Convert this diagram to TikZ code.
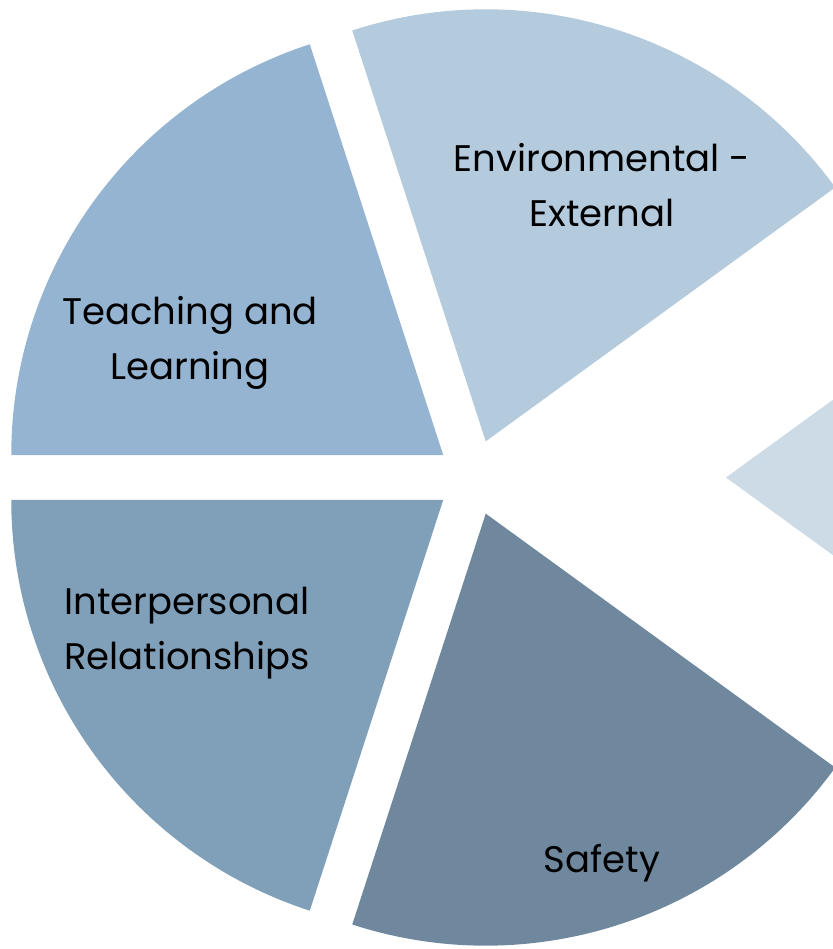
\documentclass[tikz,border=0pt]{standalone}
\usepackage{fontspec}
\setmainfont{Poppins}
\usetikzlibrary{calc}
\begin{document}
\begin{tikzpicture}[x=1pt,y=1pt,
  label text/.style={font=\fontsize{37}{55}\selectfont, text=black, align=center, inner sep=0pt}]
\definecolor{teachc}{HTML}{95B4D1}
\definecolor{envc}{HTML}{B4CADD}
\definecolor{interc}{HTML}{80A0BA}
\definecolor{safec}{HTML}{6F889E}
\definecolor{fifthc}{HTML}{CDDBE7}
\useasboundingbox (0,0) rectangle (832,949);
\coordinate (c) at (474,471.5);
\def\rad{432}
% exploded pie: five 72-degree sectors pushed out along their bisectors
\fill[teachc] ($(c)+(144:38)$) -- ++(108:\rad) arc[start angle=108, end angle=180, radius=\rad] -- cycle;
\fill[interc] ($(c)+(216:38)$) -- ++(180:\rad) arc[start angle=180, end angle=252, radius=\rad] -- cycle;
\fill[safec]  ($(c)+(288:38)$) -- ++(252:\rad) arc[start angle=252, end angle=324, radius=\rad] -- cycle;
\fill[envc]   ($(c)+(72:38)$)  -- ++(36:\rad)  arc[start angle=36,  end angle=108, radius=\rad] -- cycle;
\fill[fifthc] ($(c)+(0:252)$)  -- ++(-36:\rad) arc[start angle=-36, end angle=36,  radius=\rad] -- cycle;
\node[label text] (teach) at (190,606) {Teaching and\\Learning};
\node[label text] (env) at (602,764) {Environmental -\\External};
\node[label text] (inter) at (187,316) {Interpersonal\\Relationships};
\node[label text] (safe) at (602,86) {Safety};
\end{tikzpicture}
\end{document}
